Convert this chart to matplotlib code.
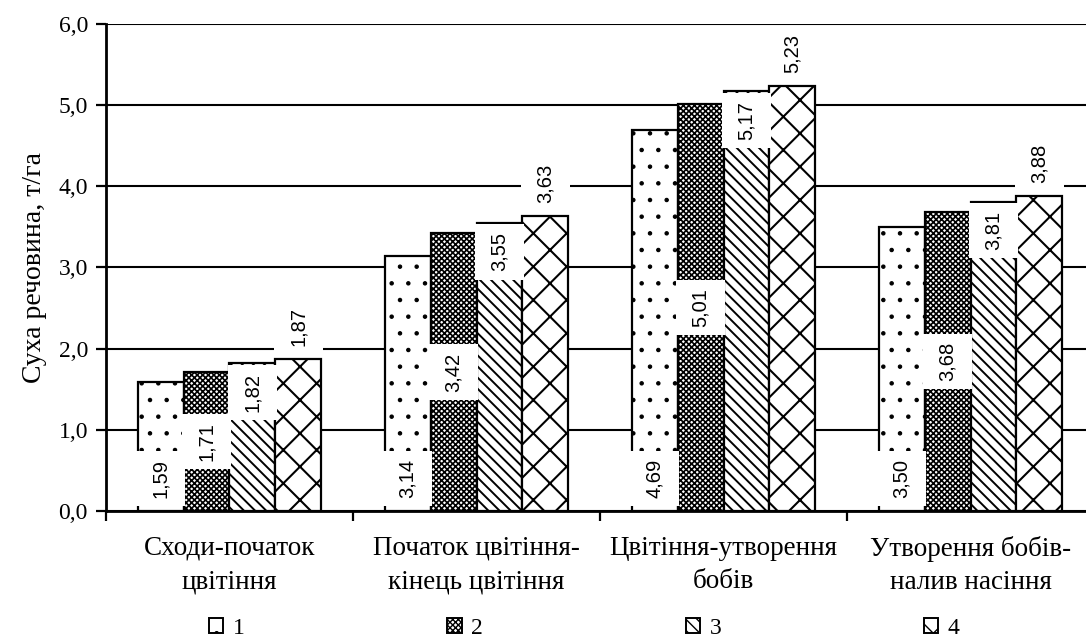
import numpy as np
import matplotlib
matplotlib.use("Agg")
import matplotlib.pyplot as plt
from matplotlib.patches import Rectangle, Patch

# dry matter by growth period, t/ha
periods = ["Сходи-початок\nцвітіння",
           "Початок цвітіння-\nкінець цвітіння",
           "Цвітіння-утворення\nбобів",
           "Утворення бобів-\nналив насіння"]
series_names = ["1", "2", "3", "4"]
v1 = [1.59, 3.14, 4.69, 3.50]
v2 = [1.71, 3.42, 5.01, 3.68]
v3 = [1.82, 3.55, 5.17, 3.81]
v4 = [1.87, 3.63, 5.23, 3.88]

hatches = [".", "xxxxxx", "\\\\\\", "x"]
hatch_lw = [0.8, 1.2, 1.4, 1.5]

plt.rcParams["font.family"] = ["Liberation Serif", "DejaVu Serif"]

fig = plt.figure(figsize=(10.86, 6.37), dpi=100)
ax = fig.add_axes([0.0976, 0.198, 0.9098, 0.7645])

x = np.arange(len(periods)) + 0.5
w = 0.186
series = [v1, v2, v3, v4]
box_h = 0.68

for i, vals in enumerate(series):
    xs = x + (i - 1.5) * w
    with plt.rc_context({"hatch.linewidth": hatch_lw[i]}):
        ax.bar(xs, vals, width=w, color="white", edgecolor="black",
               linewidth=1.6, hatch=hatches[i], zorder=2)
    for xi, v in zip(xs, vals):
        # label position per series: inside base, center, inside end, outside end
        if i == 0:
            ly = 0.40
        elif i == 1:
            ly = v / 2
        elif i == 2:
            ly = v - 0.36
        else:
            ly = v + 0.40
        y0 = max(ly - box_h / 2, 0)
        y1 = ly + box_h / 2 if i != 2 else min(ly + box_h / 2, v)
        ax.add_patch(Rectangle((xi - w * 0.53, y0), w * 1.06, y1 - y0,
                               facecolor="white", edgecolor="none", zorder=3))
        ax.text(xi, ly, f"{v:.2f}".replace(".", ","), rotation=90,
                ha="center", va="center", fontsize=14.5,
                family=["Liberation Sans", "DejaVu Sans"], zorder=4)

ax.set_xlim(0, len(periods))
ax.set_ylim(0, 6)
ax.set_yticks(np.arange(0, 6.01, 1.0))
ax.set_yticklabels([f"{t:.1f}".replace(".", ",") for t in np.arange(0, 6.01, 1.0)],
                   fontsize=17)
ax.set_xticks(x)
ax.set_xticklabels(periods, fontsize=19.5, linespacing=1.45)
ax.set_xticks(np.arange(0, len(periods) + 1), minor=True)
ax.tick_params(axis="x", which="major", length=0, pad=18)
ax.tick_params(axis="x", which="minor", length=7, width=1.6, direction="out")
ax.tick_params(axis="y", length=7, width=1.6, direction="out", pad=6)

ax.yaxis.grid(True, color="black", linewidth=1.5)
ax.set_axisbelow(True)
for s in ["top", "right"]:
    ax.spines[s].set_visible(False)
for s in ["left", "bottom"]:
    ax.spines[s].set_linewidth(2)

ax.set_ylabel("Суха речовина, т/га", fontsize=20, labelpad=8)

handles = []
for h, lw in zip(hatches, hatch_lw):
    with plt.rc_context({"hatch.linewidth": lw}):
        handles.append(Patch(facecolor="white", edgecolor="black", hatch=h,
                             linewidth=1.4))
fig.legend(handles, series_names, loc="center", bbox_to_anchor=(0.538, 0.014),
           ncol=4, frameon=False, fontsize=17, handlelength=0.6,
           handleheight=0.6, handletextpad=0.4, columnspacing=8.6)

fig.savefig("out.png", dpi=100)
